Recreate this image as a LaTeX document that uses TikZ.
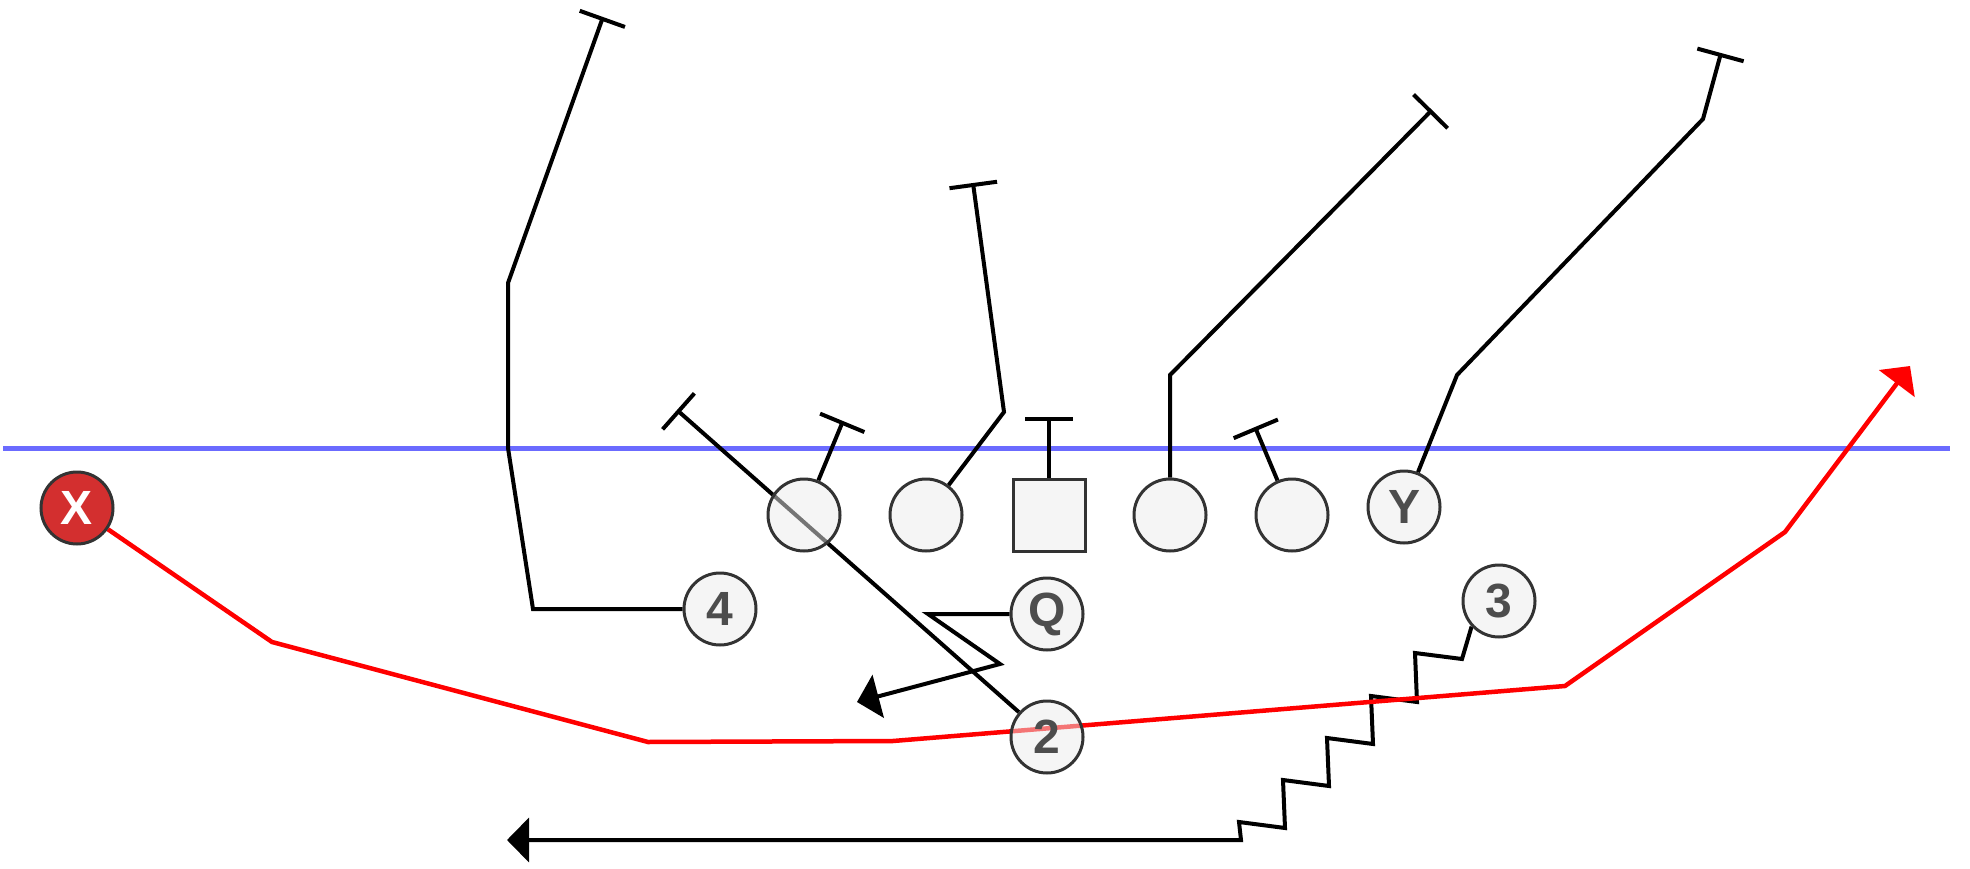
\documentclass[tikz,border=0pt]{standalone}
\usepackage{fontspec}
\setmainfont{Liberation Sans}
\usetikzlibrary{arrows.meta,backgrounds}
\definecolor{playerfill}{HTML}{EBEBEB}
\definecolor{playerline}{HTML}{333333}
\definecolor{playertext}{HTML}{4D4D4D}
\definecolor{losblue}{HTML}{6B6BFF}
\definecolor{defred}{HTML}{D32F2F}

\tikzset{
  player/.style={circle,draw=playerline,line width=3pt,fill=playerfill,fill opacity=0.5,text opacity=1,
    minimum size=72pt,inner sep=0pt,text=playertext,font=\fontsize{48}{48}\selectfont\bfseries},
  snapper/.style={player,rectangle},
  defender/.style={player,fill=defred,fill opacity=1,text=white},
  route/.style={line width=4pt},
  blockroute/.style={route,-{Bar[width=48pt]}},
  runroute/.style={route,-{Triangle[length=22pt,width=44pt]}}
}

\begin{document}
\begin{tikzpicture}[x=1pt,y=-1pt]
\useasboundingbox (0,0) rectangle (1970,869);

% players
\node[defender] (X) at (77,508) {X};
\node[player] (OL1) at (804,515) {};
\node[player] (OL2) at (926,515) {};
\node[snapper] (C) at (1049,515) {};
\node[player] (OL4) at (1170,515) {};
\node[player] (OL5) at (1292,515) {};
\node[player] (Y) at (1404,507) {Y};
\node[player] (R4) at (720,609) {4};
\node[player] (QB) at (1047,614) {Q};
\node[player] (R3) at (1499,601) {3};
\node[player] (R2) at (1047,737) {2};

% line of scrimmage and route ends
\coordinate (losL) at (3,448);
\coordinate (losR) at (1950,448);
\coordinate (endR4) at (603,17);
\coordinate (endR2) at (677,410);
\coordinate (endOL1) at (843,421);
\coordinate (endOL2) at (973,183);
\coordinate (endC) at (1049,417);
\coordinate (endOL4) at (1432,110);
\coordinate (endOL5) at (1255,427);
\coordinate (endY) at (1721,53);
\coordinate (endQB) at (857,702);
\coordinate (endR3) at (507,840);
\coordinate (endX) at (1910,366);

\begin{scope}[on background layer]
\draw[losblue,line width=5pt] (losL) -- (losR);
\draw[blockroute] (R4) -- (533,609) -- (508,448) -- (508,283) -- (endR4);
\draw[blockroute] (R2) -- (endR2);
\draw[blockroute] (OL1) -- (endOL1);
\draw[blockroute] (OL2) -- (1004,412) -- (endOL2);
\draw[blockroute] (C) -- (endC);
\draw[blockroute] (OL4) -- (1170,375) -- (endOL4);
\draw[blockroute] (OL5) -- (endOL5);
\draw[blockroute] (Y) -- (1457,375) -- (1703,119) -- (endY);
\draw[runroute] (QB) -- (928,614) -- (1000,664) -- (endQB);
\draw[runroute] (R3.223) -- (1462,659) -- (1415,653) -- (1417,702) -- (1371,696) -- (1373,744)
  -- (1327,738) -- (1329,786) -- (1283,780) -- (1285,828) -- (1239,822) -- (1241,840) -- (endR3);
\draw[runroute,red,line width=4.5pt] (X) -- (272,642) -- (648,742) -- (893,741) -- (1565,686) -- (1785,532) -- (endX);
\end{scope}
\end{tikzpicture}
\end{document}
